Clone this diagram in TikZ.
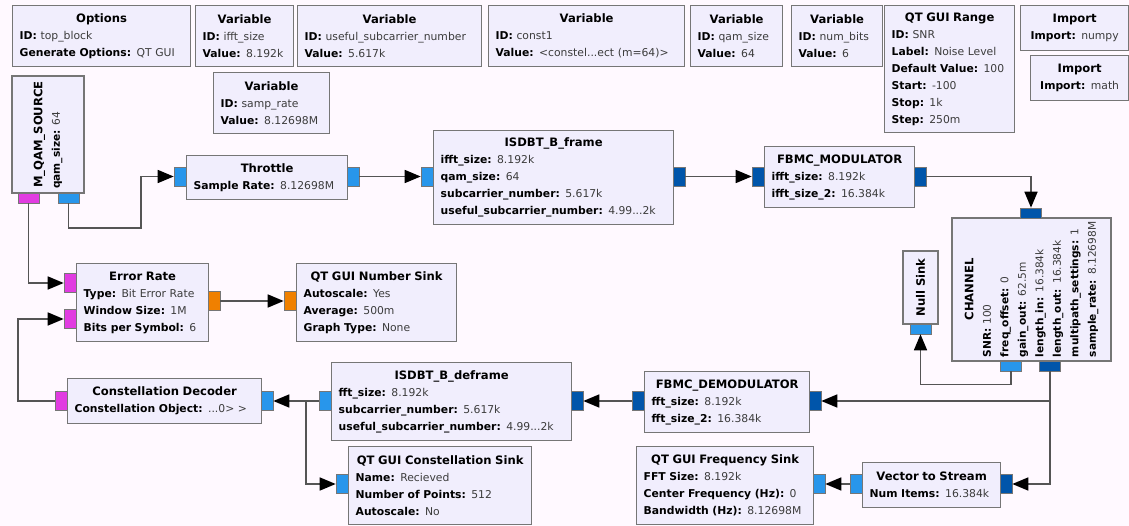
\documentclass[tikz,border=0pt]{standalone}
\usepackage{fontspec}
\setmainfont{DejaVu Sans}
\usetikzlibrary{arrows.meta, positioning}
\definecolor{bgcolor}{RGB}{255,249,255}
\definecolor{blockcolor}{RGB}{241,238,253}
\definecolor{bordercolor}{RGB}{118,118,118}
\definecolor{wirecolor}{RGB}{85,85,85}
\definecolor{valuecolor}{RGB}{60,60,60}
\definecolor{cplxcolor}{RGB}{40,150,235}
\definecolor{cveccolor}{RGB}{0,85,170}
\definecolor{bytecolor}{RGB}{225,60,225}
\definecolor{floatcolor}{RGB}{240,128,0}

\newcommand{\btitle}[1]{\makebox[\hsize]{\fontsize{11.6}{17}\selectfont\bfseries #1}}
\newcommand{\kv}[2]{\mbox{\textbf{#1:} {\color{valuecolor}#2}}}

\begin{document}
\begin{tikzpicture}[
    x=1pt, y=-1pt,
    blk/.style 2 args={draw=bordercolor, line width=1.3pt, fill=blockcolor, anchor=north west,
        minimum width=#1, minimum height=#2, inner xsep=7pt, inner ysep=0pt,
        /utils/exec={\pgfmathsetmacro\blkw{#1-14}}, text width=\blkw pt, align=left,
        font=\fontsize{10.8}{17}\selectfont},
    vblk/.style 2 args={draw=bordercolor, line width=1.3pt, fill=blockcolor, anchor=center, rotate=90,
        minimum width=#1, minimum height=#2, inner xsep=4pt, inner ysep=0pt,
        /utils/exec={\pgfmathsetmacro\blkw{#1-8}}, text width=\blkw pt, align=left,
        font=\fontsize{10.6}{17.5}\selectfont},
    hport/.style={draw=bordercolor, line width=0.6pt, minimum width=12, minimum height=19, inner sep=0pt},
    vport/.style={draw=bordercolor, line width=0.6pt, minimum width=21, minimum height=10, inner sep=0pt},
    wire/.style={draw=wirecolor, line width=1.6pt, -{Triangle[length=16pt, width=13pt, color=black]}}
]
    % Canvas
    \fill[bgcolor] (0,0) rectangle (1129,526);
    \useasboundingbox (0,0) rectangle (1129,526);

    % Options, variables and imports
    \node[blk={178}{61}] (opts) at (12,5) {\btitle{Options}\\ \kv{ID}{top\_block}\\ \kv{Generate Options}{QT GUI}};
    \node[blk={98}{61}] (vifft) at (195,5) {\btitle{Variable}\\ \kv{ID}{ifft\_size}\\ \kv{Value}{8.192k}};
    \node[blk={184}{61}] (vuseful) at (297,5) {\btitle{Variable}\\ \kv{ID}{useful\_subcarrier\_number}\\ \kv{Value}{5.617k}};
    \node[blk={116}{61}] (vsamp) at (213,72) {\btitle{Variable}\\ \kv{ID}{samp\_rate}\\ \kv{Value}{8.12698M}};
    \node[blk={196}{61}] (vconst) at (488,5) {\btitle{Variable}\\ \kv{ID}{const1}\\ \kv{Value}{<constel...ect (m=64)>}};
    \node[blk={92}{61}] (vqam) at (690,5) {\btitle{Variable}\\ \kv{ID}{qam\_size}\\ \kv{Value}{64}};
    \node[blk={91}{61}] (vbits) at (791,5) {\btitle{Variable}\\ \kv{ID}{num\_bits}\\ \kv{Value}{6}};
    \node[blk={130}{127}] (snr) at (884,5) {\btitle{QT GUI Range}\\ \kv{ID}{SNR}\\ \kv{Label}{Noise Level}\\
        \kv{Default Value}{100}\\ \kv{Start}{-100}\\ \kv{Stop}{1k}\\ \kv{Step}{250m}};
    \node[blk={108}{45}, align=center] (impnp) at (1020,5) {\btitle{Import}\\ \kv{Import}{numpy}};
    \node[blk={98}{45}, align=center] (impmath) at (1030,55) {\btitle{Import}\\ \kv{Import}{math}};

    % Transmit chain
    \node[vblk={117}{72}] (qam) at (48,134.5) {\btitle{M\_QAM\_SOURCE}\\ \kv{qam\_size}{64}};
    \node[blk={161}{44}] (thr) at (186,155) {\btitle{Throttle}\\ \kv{Sample Rate}{8.12698M}};
    \node[blk={240}{94}] (frm) at (433,130) {\btitle{ISDBT\_B\_frame}\\ \kv{ifft\_size}{8.192k}\\ \kv{qam\_size}{64}\\
        \kv{subcarrier\_number}{5.617k}\\ \kv{useful\_subcarrier\_number}{4.99...2k}};
    \node[blk={150}{61}] (mod) at (764,146) {\btitle{FBMC\_MODULATOR}\\ \kv{ifft\_size}{8.192k}\\ \kv{ifft\_size\_2}{16.384k}};
    \node[vblk={143}{159}] (ch) at (1031.5,289.5) {\btitle{CHANNEL}\\ \kv{SNR}{100}\\ \kv{freq\_offset}{0}\\ \kv{gain\_out}{62.5m}\\
        \kv{length\_in}{16.384k}\\ \kv{length\_out}{16.384k}\\ \kv{multipath\_settings}{1}\\ \kv{sample\_rate}{8.12698M}};
    \node[vblk={73}{35}] (null) at (920.5,287.5) {\btitle{Null Sink}};

    % Receive chain
    \node[blk={132}{78}] (er) at (76,263) {\btitle{Error Rate}\\ \kv{Type}{Bit Error Rate}\\ \kv{Window Size}{1M}\\ \kv{Bits per Symbol}{6}};
    \node[blk={160}{78}] (ns) at (296,263) {\btitle{QT GUI Number Sink}\\ \kv{Autoscale}{Yes}\\ \kv{Average}{500m}\\ \kv{Graph Type}{None}};
    \node[blk={194}{45}] (dec) at (67,378) {\btitle{Constellation Decoder}\\ \kv{Constellation Object}{...0> >}};
    \node[blk={240}{78}] (dfr) at (331,362) {\btitle{ISDBT\_B\_deframe}\\ \kv{fft\_size}{8.192k}\\
        \kv{subcarrier\_number}{5.617k}\\ \kv{useful\_subcarrier\_number}{4.99...2k}};
    \node[blk={165}{61}] (dem) at (644,371) {\btitle{FBMC\_DEMODULATOR}\\ \kv{fft\_size}{8.192k}\\ \kv{fft\_size\_2}{16.384k}};
    \node[blk={183}{78}] (cs) at (348,446) {\btitle{QT GUI Constellation Sink}\\ \kv{Name}{Recieved}\\ \kv{Number of Points}{512}\\ \kv{Autoscale}{No}};
    \node[blk={177}{78}] (fs) at (636,446) {\btitle{QT GUI Frequency Sink}\\ \kv{FFT Size}{8.192k}\\ \kv{Center Frequency (Hz)}{0}\\ \kv{Bandwidth (Hz)}{8.12698M}};
    \node[blk={138}{45}] (v2s) at (862,462) {\btitle{Vector to Stream}\\ \kv{Num Items}{16.384k}};

    % Ports
    \node[vport, fill=bytecolor] (qam-o0) at (28.5,198) {};
    \node[vport, fill=cplxcolor] (qam-o1) at (68.5,198) {};
    \node[hport, fill=cplxcolor] (thr-in) at (180,176.5) {};
    \node[hport, fill=cplxcolor] (thr-out) at (353,176.5) {};
    \node[hport, fill=cplxcolor] (frm-in) at (427,176.5) {};
    \node[hport, fill=cveccolor] (frm-out) at (679,176.5) {};
    \node[hport, fill=cveccolor] (mod-in) at (758,176.5) {};
    \node[hport, fill=cveccolor] (mod-out) at (920,176.5) {};
    \node[vport, fill=cveccolor] (ch-in) at (1031,213) {};
    \node[vport, fill=cplxcolor] (ch-o0) at (1011,366) {};
    \node[vport, fill=cveccolor] (ch-o1) at (1050,366) {};
    \node[vport, fill=cplxcolor] (null-in) at (920.5,329) {};
    \node[hport, fill=bytecolor] (er-in0) at (70,283) {};
    \node[hport, fill=bytecolor] (er-in1) at (70,319) {};
    \node[hport, fill=floatcolor] (er-out) at (214,301) {};
    \node[hport, fill=floatcolor] (ns-in) at (290,301) {};
    \node[hport, fill=bytecolor] (dec-in) at (61,401) {};
    \node[hport, fill=cplxcolor] (dec-out) at (267,401) {};
    \node[hport, fill=cplxcolor] (dfr-in) at (325,401) {};
    \node[hport, fill=cveccolor] (dfr-out) at (577,401) {};
    \node[hport, fill=cveccolor] (dem-in) at (638,401) {};
    \node[hport, fill=cveccolor] (dem-out) at (815,401) {};
    \node[hport, fill=cplxcolor] (cs-in) at (342,484) {};
    \node[hport, fill=cplxcolor] (fs-in) at (819,484) {};
    \node[hport, fill=cplxcolor] (v2s-in) at (856,484) {};
    \node[hport, fill=cveccolor] (v2s-out) at (1006,484) {};

    % Connections
    \draw[wire] (qam-o1.south) -- ++(0,25) -| ([xshift=-33pt]thr-in.west) -- (thr-in.west);
    \draw[wire] (thr-out.east) -- (frm-in.west);
    \draw[wire] (frm-out.east) -- (mod-in.west);
    \draw[wire] (mod-out.east) -| (ch-in.north);
    \draw[wire] (ch-o0.south) -- ++(0,13) -| (null-in.south);
    \draw[wire] (ch-o1.south) |- (dem-out.east);
    \draw[wire] (ch-o1.south) |- (v2s-out.east);
    \draw[wire] (v2s-in.west) -- (fs-in.east);
    \draw[wire] (dem-in.west) -- (dfr-out.east);
    \draw[wire] (dfr-in.west) -- (dec-out.east);
    \draw[wire] (dfr-in.west) -- ++(-13,0) |- (cs-in.west);
    \draw[wire] (dec-in.west) -- ++(-37,0) |- (er-in1.west);
    \draw[wire] (qam-o0.south) |- (er-in0.west);
    \draw[wire] (er-out.east) -- (ns-in.west);
\end{tikzpicture}
\end{document}
